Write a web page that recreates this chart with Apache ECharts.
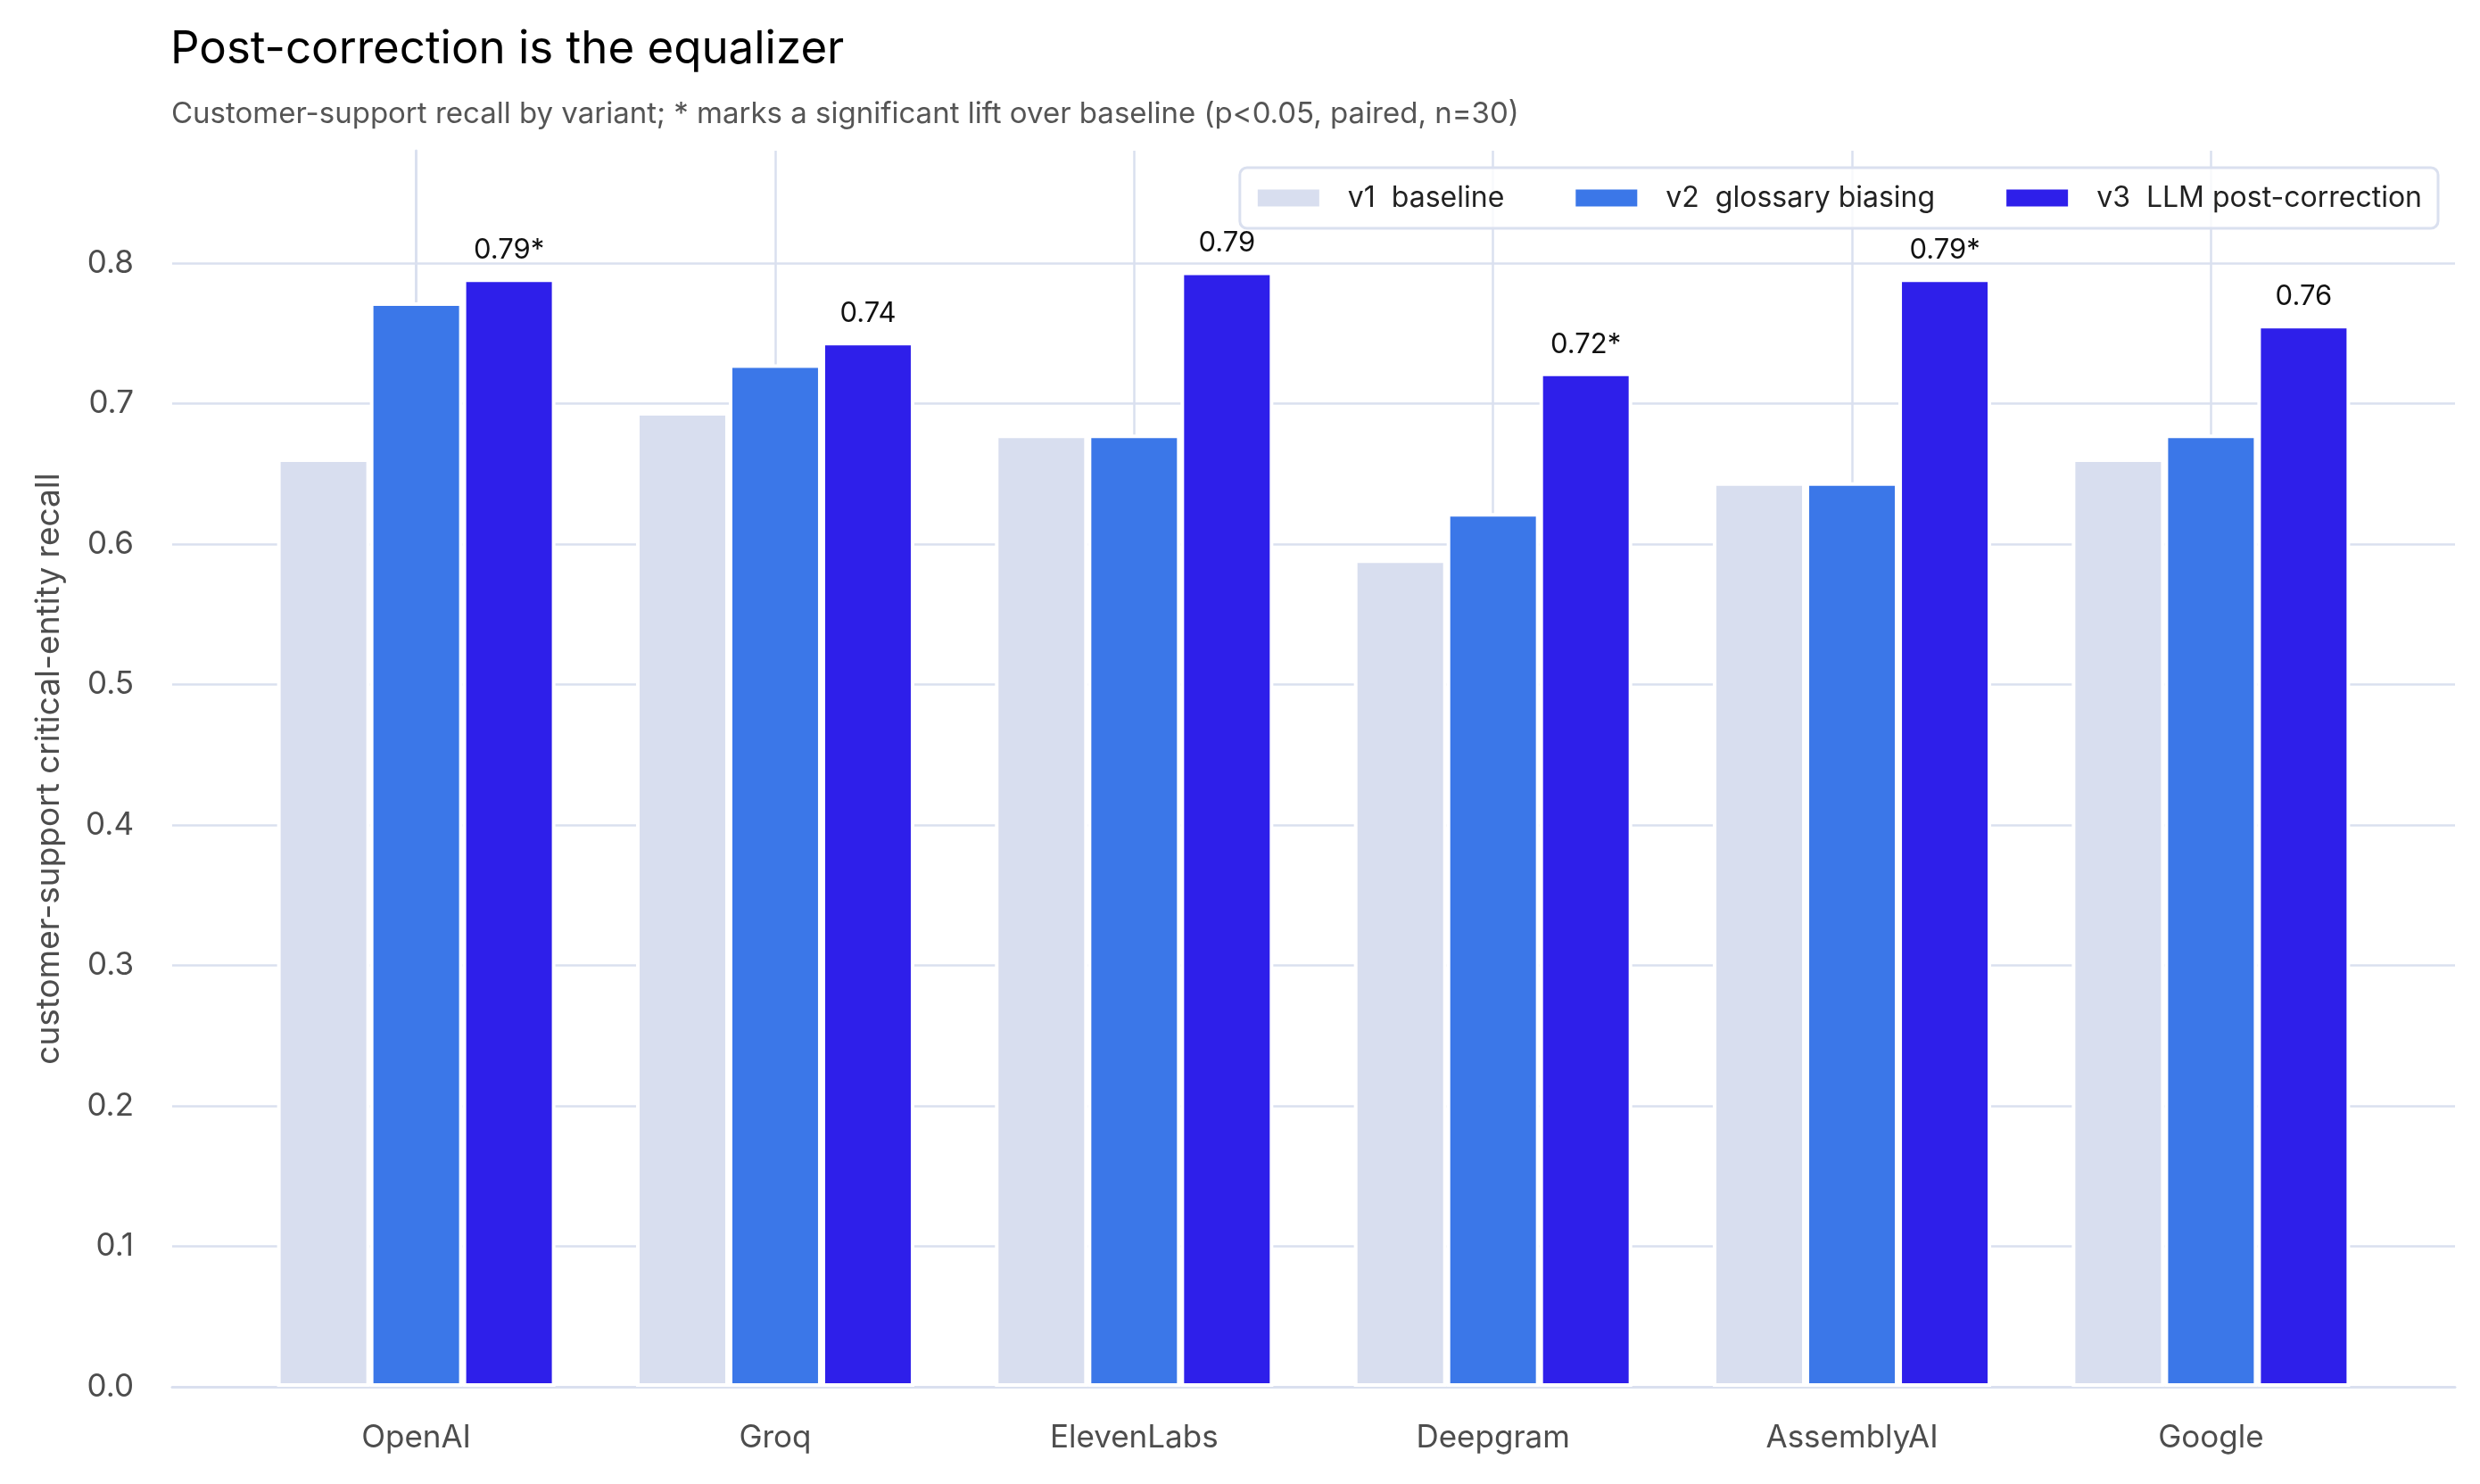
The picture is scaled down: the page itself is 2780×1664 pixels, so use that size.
<!DOCTYPE html>
<html>
<head>
<meta charset="utf-8">
<title>Post-correction is the equalizer</title>
<script src="https://cdn.jsdelivr.net/npm/echarts@6/dist/echarts.min.js"></script>
<style>
  html, body { margin: 0; padding: 0; background: #fff; }
  #chart-container { width: 2780px; height: 1664px; }
</style>
</head>
<body>
<div id="chart-container"></div>
<script>
// data
const providers = ['OpenAI', 'Groq', 'ElevenLabs', 'Deepgram', 'AssemblyAI', 'Google'];
const variantNames = ['v1  baseline', 'v2  glossary biasing', 'v3  LLM post-correction'];
const baseline = [0.661, 0.694, 0.678, 0.589, 0.644, 0.661];
const glossary = [0.772, 0.728, 0.678, 0.622, 0.644, 0.678];
const postCorrection = [0.789, 0.744, 0.794, 0.722, 0.789, 0.756];
const significant = [true, false, false, true, true, false];
const yTicks = [0, 0.1, 0.2, 0.3, 0.4, 0.5, 0.6, 0.7, 0.8];

const colors = ['#d8deef', '#3b77e8', '#2e1fea'];
const gridColor = '#dae0ef';
const fontFamily = 'Inter, "Noto Sans", sans-serif';

var dom = document.getElementById('chart-container');
var myChart = echarts.init(dom, null, { renderer: 'canvas' });

const xTicks = providers.map(function (p, i) { return i; });

function toPoints(values) {
    return values.map(function (v, i) { return [i, v]; });
}

function barSeries(name, values, color) {
    return {
        name: name,
        type: 'bar',
        data: toPoints(values),
        barWidth: 104,
        barGap: '0%',
        itemStyle: {
            color: color,
            borderColor: '#ffffff',
            borderWidth: 4
        },
        emphasis: { disabled: true }
    };
}

var v3 = barSeries(variantNames[2], postCorrection, colors[2]);
v3.label = {
    show: true,
    position: 'top',
    distance: 16,
    fontFamily: fontFamily,
    fontSize: 31,
    color: '#111111',
    formatter: function (params) {
        return params.data[1].toFixed(2) + (significant[params.dataIndex] ? '*' : '');
    }
};

var option = {
    animation: false,
    backgroundColor: '#ffffff',
    textStyle: { fontFamily: fontFamily },
    title: [
        {
            text: 'Post-correction is the equalizer',
            left: 191,
            top: 30,
            padding: 0,
            textStyle: { fontFamily: fontFamily, fontSize: 51, fontWeight: 'normal', color: '#000000' }
        },
        {
            text: 'Customer-support recall by variant; * marks a significant lift over baseline (p<0.05, paired, n=30)',
            left: 192,
            top: 112,
            padding: 0,
            textStyle: { fontFamily: fontFamily, fontSize: 33, fontWeight: 'normal', color: '#555555' }
        }
    ],
    legend: {
        right: 47,
        top: 188,
        itemWidth: 71,
        itemHeight: 21,
        itemGap: 78,
        padding: [18, 18, 18, 18],
        backgroundColor: 'rgba(255,255,255,0.8)',
        borderColor: gridColor,
        borderWidth: 3,
        borderRadius: 8,
        icon: 'rect',
        textStyle: {
            fontFamily: fontFamily,
            fontSize: 32,
            color: '#222222',
            padding: [0, 0, 0, 26]
        },
        data: variantNames
    },
    grid: {
        left: 193,
        right: 28,
        top: 169,
        bottom: 109,
        containLabel: false,
        outerBoundsMode: 'none'
    },
    xAxis: {
        type: 'value',
        min: -0.68,
        max: 5.68,
        axisLine: { show: true, lineStyle: { color: gridColor, width: 3 } },
        axisTick: { show: false, customValues: xTicks },
        axisLabel: {
            customValues: xTicks,
            margin: 40,
            fontFamily: fontFamily,
            fontSize: 35,
            color: '#4d4d4d',
            formatter: function (value) {
                return providers[Math.round(value)];
            }
        },
        splitLine: { show: true, lineStyle: { color: gridColor, width: 2.5 } }
    },
    yAxis: {
        type: 'value',
        min: 0,
        max: 0.88,
        name: 'customer-support critical-entity recall',
        nameLocation: 'middle',
        nameGap: 120,
        nameTextStyle: { fontFamily: fontFamily, fontSize: 37, color: '#4d4d4d' },
        axisLine: { show: true, lineStyle: { color: gridColor, width: 3 } },
        axisTick: { show: false, customValues: yTicks },
        axisLabel: {
            customValues: yTicks,
            margin: 43,
            fontFamily: fontFamily,
            fontSize: 35,
            color: '#4d4d4d',
            formatter: function (value) {
                return value.toFixed(1);
            }
        },
        splitLine: { show: true, lineStyle: { color: gridColor, width: 2.5 } }
    },
    series: [
        barSeries(variantNames[0], baseline, colors[0]),
        barSeries(variantNames[1], glossary, colors[1]),
        v3
    ]
};

if (option && typeof option === 'object') {
    myChart.setOption(option);
}

window.addEventListener('resize', myChart.resize);
</script>
</body>
</html>
